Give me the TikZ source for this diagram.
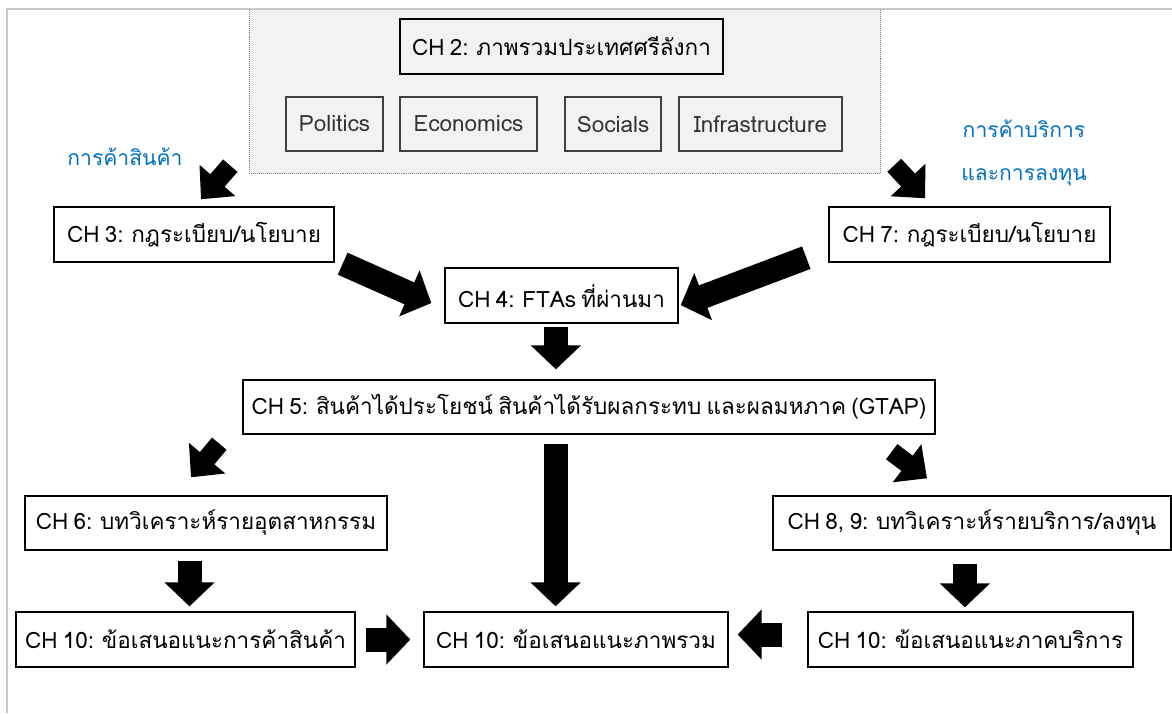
\documentclass[tikz,border=0pt]{standalone}
\usepackage{fontspec}
\setmainfont[Script=Thai, WordSpace=0.7]{Loma}
\usetikzlibrary{arrows.meta}
\usetikzlibrary{positioning}
\definecolor{labelblue}{RGB}{0,112,192}
\definecolor{panelgray}{RGB}{242,242,242}
\definecolor{framegray}{RGB}{200,200,200}

\begin{document}
\begin{tikzpicture}
    [   box/.style = {draw, line width=0.35mm, inner sep=0pt, minimum height=13.75mm, font=\fontsize{16}{19}\selectfont}
    ,   subbox/.style = {box, draw=black!75, text=black!80, minimum height=13.5mm}
    ,   topic/.style = {text=labelblue, align=center, font=\fontsize{15}{30}\selectfont}
    ,   bigarrow/.style = {line width=6mm, -{Triangle[width=12.25mm, length=6mm]}}
    ,   diagarrow/.style = {line width=4.75mm, -{Triangle[width=11.5mm, length=6.25mm]}}
    ]
    \useasboundingbox (0mm,0mm) rectangle (293mm,-178.25mm);
    \node[fill=panelgray, draw=gray, densely dotted, inner sep=0pt, minimum width=157.75mm, minimum height=41mm]
        (overview) at (141.125mm,-22.75mm) {};
    \draw[framegray, line width=0.5mm] (1.75mm,-178.25mm) -- (1.75mm,-2.25mm) -- (293mm,-2.25mm);

    \node[box, minimum width=80.75mm] (ch2) at (140.375mm,-11.625mm) {CH 2: ภาพรวมประเทศศรีลังกา};
    \node[subbox, minimum width=24.25mm] (politics) at (83.625mm,-31mm) {Politics};
    \node[subbox, minimum width=34.25mm] (economics) at (117.125mm,-31mm) {Economics};
    \node[subbox, minimum width=24mm] (socials) at (153.25mm,-31mm) {Socials};
    \node[subbox, minimum width=40.75mm] (infra) at (190.125mm,-31mm) {Infrastructure};

    \node[topic] (goods) at (31.25mm,-39.25mm) {การค้าสินค้า};
    \node[topic] (services) at (256mm,-38.25mm) {การค้าบริการ\\และการลงทุน};

    \node[box, minimum width=70mm] (ch3) at (48.5mm,-58.625mm) {CH 3: กฎระเบียบ/นโยบาย};
    \node[box, minimum width=70.25mm] (ch7) at (242.375mm,-58.625mm) {CH 7: กฎระเบียบ/นโยบาย};
    \node[box, minimum width=58.25mm] (ch4) at (140.375mm,-73.875mm) {CH 4: FTAs ที่ผ่านมา};
    \node[box, minimum width=173mm, minimum height=13.5mm] (ch5) at (147.25mm,-101.75mm)
        {CH 5: สินค้าได้ประโยชน์ สินค้าได้รับผลกระทบ และผลมหภาค (GTAP)};
    \node[box, minimum width=90.5mm, minimum height=13.5mm] (ch6) at (51.5mm,-130.75mm) {CH 6: บทวิเคราะห์รายอุตสาหกรรม};
    \node[box, minimum width=99.5mm, minimum height=13.5mm] (ch89) at (243mm,-130.75mm) {CH 8, 9: บทวิเคราะห์รายบริการ/ลงทุน};
    \node[box, minimum width=84.75mm] (ch10a) at (46.375mm,-159.875mm) {CH 10: ข้อเสนอแนะการค้าสินค้า};
    \node[box, minimum width=76mm] (ch10c) at (144mm,-159.875mm) {CH 10: ข้อเสนอแนะภาพรวม};
    \node[box, minimum width=81.25mm] (ch10b) at (242.625mm,-159.875mm) {CH 10: ข้อเสนอแนะภาคบริการ};

    \draw[diagarrow] ([xshift=-4.6mm,yshift=1.9mm]overview.south west) -- ([xshift=1.75mm,yshift=1.75mm]ch3.north);
    \draw[diagarrow] ([xshift=3.5mm,yshift=2mm]overview.south east) -- ([xshift=-11.1mm,yshift=2mm]ch7.north);
    \draw[bigarrow] ([xshift=2mm,yshift=-0.25mm]ch3.south east) -- ([xshift=-3.25mm,yshift=-1.9mm]ch4.west);
    \draw[bigarrow] ([xshift=-5.5mm,yshift=1.25mm]ch7.south west) -- ([xshift=0.5mm,yshift=-2.4mm]ch4.east);
    \draw[bigarrow] ([xshift=-1.4mm,yshift=-0.75mm]ch4.south) -- ([xshift=-1.4mm,yshift=2.5mm]ch4.south |- ch5.north);
    \draw[diagarrow] ([xshift=-5.75mm,yshift=-2.25mm]ch5.south west) -- ([xshift=-3.75mm,yshift=4.5mm]ch6.north);
    \draw[diagarrow] ([xshift=-11mm,yshift=-4.25mm]ch5.south east) -- ([xshift=-11.25mm,yshift=4.25mm]ch89.north);
    \draw[bigarrow] ([xshift=-5.1mm,yshift=-2.25mm]ch10c.north |- ch5.south) -- ([xshift=-5.1mm,yshift=1.25mm]ch10c.north);
    \draw[bigarrow] ([xshift=1mm,yshift=-2.5mm]ch10a.north |- ch6.south) -- ([xshift=1mm,yshift=1.25mm]ch10a.north);
    \draw[bigarrow] ([xshift=-1.4mm,yshift=-3.25mm]ch10b.north |- ch89.south) -- ([xshift=-1.4mm,yshift=1mm]ch10b.north);
    \draw[bigarrow] ([xshift=2.5mm]ch10a.east) -- ([xshift=-3.25mm]ch10c.west);
    \draw[bigarrow] ([xshift=-6.25mm,yshift=1.25mm]ch10b.west) -- ([xshift=2.25mm,yshift=1.25mm]ch10c.east);
\end{tikzpicture}
\end{document}
